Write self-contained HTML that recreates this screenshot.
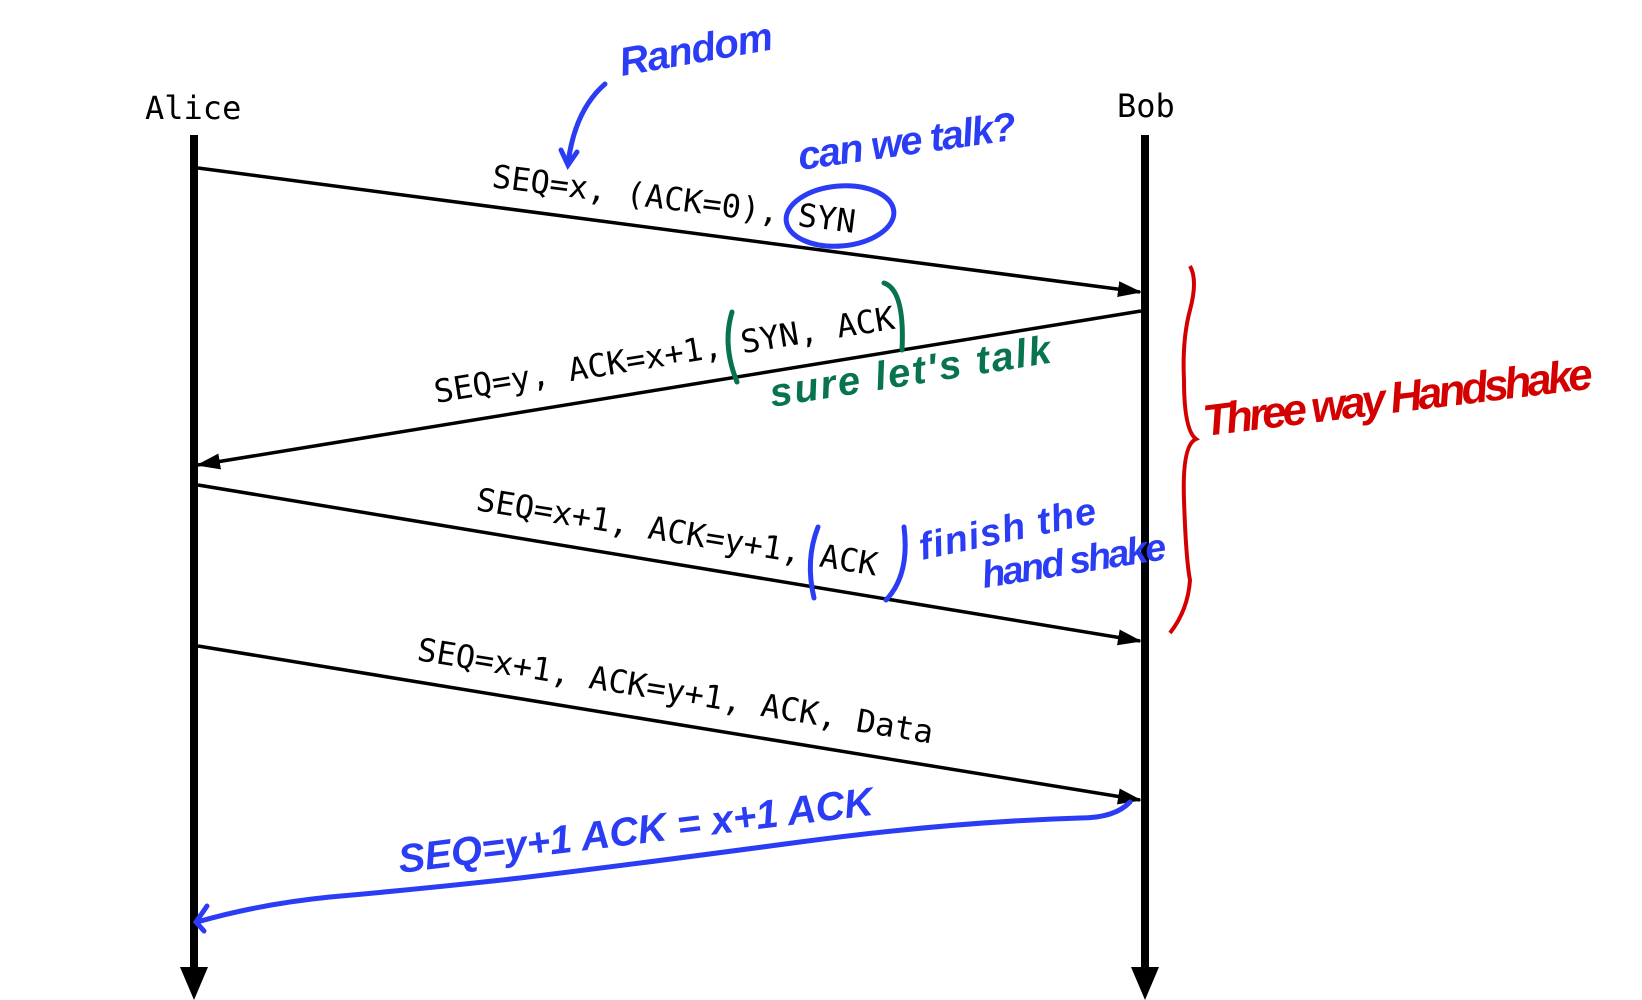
<!DOCTYPE html>
<html><head><meta charset="utf-8"><style>
html,body{margin:0;padding:0;background:#fff;width:1642px;height:1000px;overflow:hidden}
svg{display:block}
.lbl{font-family:"DejaVu Sans Mono","Liberation Mono",monospace;font-size:32px;fill:#000}
.hw{font-family:"Liberation Sans",sans-serif;font-style:italic;font-weight:bold}
</style></head><body>
<svg width="1642" height="1000" viewBox="0 0 1642 1000">
<defs>
<marker id="ah" markerWidth="24" markerHeight="16" refX="22" refY="8" orient="auto" markerUnits="userSpaceOnUse" viewBox="0 0 24 16">
<path d="M0,0 L24,8 L0,16 Z" fill="#000"/></marker>
</defs>
<text x="145" y="119" class="lbl" font-size="31">Alice</text>
<text x="1117" y="117" class="lbl" font-size="31">Bob</text>
<g>
<line x1="194" y1="135" x2="194" y2="970" stroke="#000" stroke-width="8"/>
<path d="M180,967 L208,967 L194,1000 Z" fill="#000"/></g>
<g>
<line x1="1145" y1="135" x2="1145" y2="970" stroke="#000" stroke-width="8"/>
<path d="M1131,967 L1159,967 L1145,1000 Z" fill="#000"/></g>
<g stroke="#000" stroke-width="3.5" fill="none">
<line x1="198" y1="168" x2="1140" y2="292" marker-end="url(#ah)"/>
<line x1="1141" y1="311" x2="198" y2="465" marker-end="url(#ah)"/>
<line x1="198" y1="485" x2="1140" y2="641" marker-end="url(#ah)"/>
<line x1="198" y1="646" x2="1140" y2="800" marker-end="url(#ah)"/>
</g>
<text class="lbl" transform="translate(491,187) rotate(7.2)" textLength="366" lengthAdjust="spacingAndGlyphs">SEQ=x, (ACK=0), SYN</text>
<text class="lbl" transform="translate(436,403) rotate(-9.2)" textLength="466" lengthAdjust="spacingAndGlyphs">SEQ=y, ACK=x+1, SYN, ACK</text>
<text class="lbl" transform="translate(475,510) rotate(9.3)" textLength="406" lengthAdjust="spacingAndGlyphs">SEQ=x+1, ACK=y+1, ACK</text>
<text class="lbl" transform="translate(416,660) rotate(9.2)" textLength="522" lengthAdjust="spacingAndGlyphs">SEQ=x+1, ACK=y+1, ACK, Data</text>
<g fill="none" stroke="#2b3cf5" stroke-width="5" stroke-linecap="round">
<path d="M605,84 Q575,110 568,163 M561,150 L568,165 L577,152"/>
<ellipse cx="840" cy="216" rx="54" ry="30" transform="rotate(-5 840 216)"/>
<path d="M818,527 Q805,560 814,598"/>
<path d="M904,527 Q910,575 886,600"/>
<path d="M1130,802 Q1115,818 1080,818 Q950,822 800,842 Q620,866 520,878 Q420,889 330,897 Q260,904 197,922 M207,906 L196,922 L204,931"/>
</g>
<g fill="none" stroke="#087350" stroke-width="5" stroke-linecap="round">
<path d="M732,312 Q722,345 737,382"/>
<path d="M884,283 Q905,290 902,350"/>
</g>
<path d="M1190,266 Q1198,280 1190,310 Q1182,340 1184,380 Q1184,430 1196,439 Q1182,445 1184,500 Q1186,560 1190,580 Q1188,610 1170,633" fill="none" stroke="#d40000" stroke-width="4"/>
<text class="hw" fill="#2b3cf5" font-size="40" transform="translate(622,76) rotate(-10)" textLength="155">Random</text>
<text class="hw" fill="#2b3cf5" font-size="40" transform="translate(800,170) rotate(-8)" textLength="220">can we talk?</text>
<text class="hw" fill="#087350" font-size="40" transform="translate(772,407) rotate(-9)" textLength="284">sure let's talk</text>
<text class="hw" fill="#2b3cf5" font-size="38" transform="translate(922,560) rotate(-12)" textLength="180">finish the</text>
<text class="hw" fill="#2b3cf5" font-size="38" transform="translate(984,588) rotate(-9)" textLength="186">hand shake</text>
<text class="hw" fill="#d40000" font-size="44" transform="translate(1205,436) rotate(-7)" textLength="392">Three way Handshake</text>
<text class="hw" fill="#2b3cf5" font-size="40" transform="translate(400,873) rotate(-7)" textLength="478">SEQ=y+1  ACK = x+1  ACK</text>
</svg>
</body></html>
